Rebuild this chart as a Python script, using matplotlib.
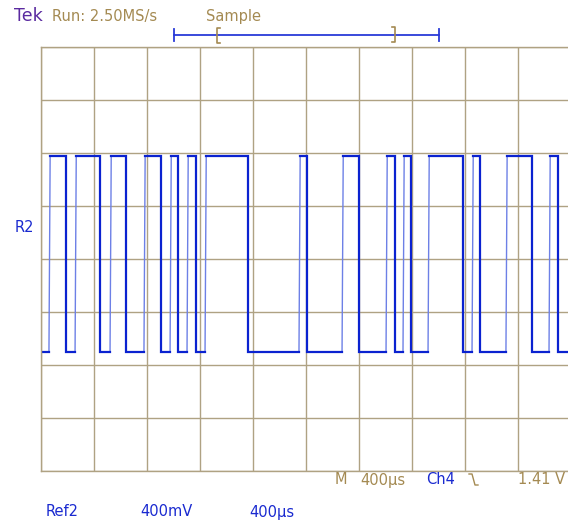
import numpy as np
import matplotlib
matplotlib.use("Agg")
import matplotlib.pyplot as plt
from matplotlib.lines import Line2D

# ---- data ----
# time of each transition in microseconds (400 us/div), alternating rise/fall, starting low
edge_times_us = [60, 189, 257, 445, 521, 642, 777, 906, 974, 1034, 1102, 1170,
                 1238, 1562, 1947, 2008, 2272, 2400, 2604, 2672, 2732, 2792,
                 2921, 3185, 3253, 3313, 3509, 3706, 3834, 3902]
high_level_div = 1.94   # divisions above screen centre
low_level_div = -1.76   # divisions below screen centre
t_end_us = 3980
rise_time_us = 9

x_div_us = 400
n_xdiv = 10
y_div_labels = [-4, -3, -2, -1, 0, 1, 2, 3, 4]

W, H = 568, 522
fig = plt.figure(figsize=(W / 100, H / 100), dpi=100)
fig.patch.set_facecolor("white")

def fx(x):
    return x / W

def fy(y):
    return 1 - y / H

left, right, top, bottom = 41, 571, 47, 471
ax = fig.add_axes([fx(left), fy(bottom), (right - left) / W, (bottom - top) / H])
ax.set_xlim(0, n_xdiv * x_div_us)
ax.set_ylim(-4, 4)
grid_c = "#afa283"
for s in ax.spines.values():
    s.set_color(grid_c)
    s.set_linewidth(1.0)
ax.set_xticks([i * x_div_us for i in range(n_xdiv + 1)])
ax.set_yticks(y_div_labels)
ax.tick_params(length=0, labelbottom=False, labelleft=False)
ax.grid(True, color=grid_c, linewidth=1.0)
ax.set_axisbelow(True)

# ---- waveform ----
dark = "#0a22d0"
light = "#6d80e6"
flat_x, flat_y = [0], [low_level_div]
rise_x, rise_y = [], []
for i, t in enumerate(edge_times_us):
    if i % 2 == 0:  # rising
        flat_x += [t, np.nan]
        flat_y += [low_level_div, np.nan]
        rise_x += [t, t + rise_time_us, np.nan]
        rise_y += [low_level_div, high_level_div, np.nan]
        flat_x += [t + rise_time_us]
        flat_y += [high_level_div]
    else:  # falling
        flat_x += [t, t]
        flat_y += [high_level_div, low_level_div]
flat_x.append(t_end_us)
flat_y.append(low_level_div)
ax.plot(rise_x, rise_y, color=light, lw=1.0, solid_capstyle="butt")
ax.plot(flat_x, flat_y, color=dark, lw=1.6, solid_joinstyle="miter")

# ---- annotations ----
gold = "#a48a52"
blue = "#1a2ad0"
purple = "#5a2aa0"
fs = 10.5
fig.text(fx(14), fy(16), "Tek", color=purple, fontsize=12.5, va="center", ha="left")
fig.text(fx(52), fy(16), "Run: 2.50MS/s", color=gold, fontsize=fs, va="center", ha="left")
fig.text(fx(206), fy(16), "Sample", color=gold, fontsize=fs, va="center", ha="left")
fig.text(fx(15), fy(227), "R2", color=blue, fontsize=fs, va="center", ha="left")

fig.text(fx(335), fy(480), "M", color=gold, fontsize=fs, va="center", ha="left")
fig.text(fx(360), fy(480), "400µs", color=gold, fontsize=fs, va="center", ha="left")
fig.text(fx(426), fy(480), "Ch4", color=blue, fontsize=fs, va="center", ha="left")
fig.text(fx(565), fy(480), "1.41 V", color=gold, fontsize=fs, va="center", ha="right")

fig.text(fx(46), fy(512), "Ref2", color=blue, fontsize=fs, va="center", ha="left")
fig.text(fx(140), fy(512), "400mV", color=blue, fontsize=fs, va="center", ha="left")
fig.text(fx(249), fy(512), "400µs", color=blue, fontsize=fs, va="center", ha="left")

# trigger slope symbol
fig.add_artist(Line2D([fx(469), fx(472), fx(475), fx(478)],
                      [fy(474), fy(474), fy(485), fy(485)], color=gold, lw=1.0))

# record-length bar
bar_c = "#2a3ad8"
fig.add_artist(Line2D([fx(174), fx(439)], [fy(35), fy(35)], color=bar_c, lw=1.3))
fig.add_artist(Line2D([fx(174), fx(174)], [fy(29), fy(41)], color=bar_c, lw=1.3))
fig.add_artist(Line2D([fx(439), fx(439)], [fy(29), fy(41)], color=bar_c, lw=1.3))
fig.add_artist(Line2D([fx(220), fx(217), fx(217), fx(220)],
                      [fy(28), fy(28), fy(43), fy(43)], color=gold, lw=1.2))
fig.add_artist(Line2D([fx(392), fx(395), fx(395), fx(392)],
                      [fy(27), fy(27), fy(42), fy(42)], color=gold, lw=1.2))

fig.savefig("out.png", dpi=100, facecolor="white")
